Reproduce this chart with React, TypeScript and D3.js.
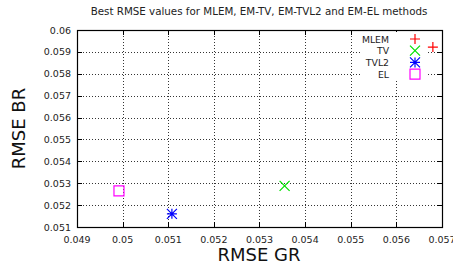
import * as d3 from "d3";
import React, { useEffect, useRef } from "react";

const methods = ["MLEM", "TV", "TVL2", "EL"];
const rmseGR = [0.0568, 0.05355, 0.05108, 0.04992];
const rmseBR = [0.05922, 0.05288, 0.0516, 0.05265];
const colors = ["#ff0000", "#00e000", "#0000ff", "#ff00ff"];
const shapes = ["plus", "cross", "star", "square"];
const xTicks = [0.049, 0.05, 0.051, 0.052, 0.053, 0.054, 0.055, 0.056, 0.057];
const yTicks = [0.051, 0.052, 0.053, 0.054, 0.055, 0.056, 0.057, 0.058, 0.059, 0.06];

const drawMarker = (g, shape, color, x, y) => {
  const s = 5;
  const p = g.append("path").attr("fill", "none").attr("stroke", color).attr("stroke-width", 1.2);
  if (shape === "plus") {
    p.attr("d", `M${x - s},${y}H${x + s}M${x},${y - s}V${y + s}`);
  } else if (shape === "cross") {
    p.attr("d", `M${x - s},${y - s}L${x + s},${y + s}M${x - s},${y + s}L${x + s},${y - s}`);
  } else if (shape === "star") {
    p.attr(
      "d",
      `M${x - s},${y}H${x + s}M${x},${y - s}V${y + s}M${x - s},${y - s}L${x + s},${y + s}M${x - s},${y + s}L${x + s},${y - s}`
    );
  } else {
    p.attr("d", `M${x - s},${y - s}H${x + s}V${y + s}H${x - s}Z`);
  }
};

export default function App() {
  const ref = useRef(null);

  useEffect(() => {
    const width = 453;
    const height = 269;
    const margin = { left: 77, right: 11, top: 30, bottom: 42 };

    const svg = d3.select(ref.current);
    svg.selectAll("*").remove();
    svg.style("font-family", "DejaVu Sans, sans-serif");

    const x = d3.scaleLinear().domain([0.049, 0.057]).range([margin.left, width - margin.right]);
    const y = d3.scaleLinear().domain([0.051, 0.06]).range([height - margin.bottom, margin.top]);
    const [x0, x1] = x.range();
    const [y0, y1] = y.range();

    // grid
    const grid = svg.append("g").attr("stroke", "#000").attr("stroke-width", 0.8).attr("stroke-dasharray", "1,2");
    grid
      .selectAll("line.vx")
      .data(xTicks.slice(1, -1))
      .join("line")
      .attr("x1", (d) => Math.round(x(d)) + 0.5)
      .attr("x2", (d) => Math.round(x(d)) + 0.5)
      .attr("y1", y1)
      .attr("y2", y0);
    grid
      .selectAll("line.hy")
      .data(yTicks.slice(1, -1))
      .join("line")
      .attr("class", "hy")
      .attr("x1", x0)
      .attr("x2", x1)
      .attr("y1", (d) => Math.round(y(d)) + 0.5)
      .attr("y2", (d) => Math.round(y(d)) + 0.5);

    // ticks (inward, mirrored)
    const ticks = svg.append("g").attr("stroke", "#000").attr("stroke-width", 1);
    xTicks.forEach((t) => {
      const px = Math.round(x(t)) + 0.5;
      ticks.append("line").attr("x1", px).attr("x2", px).attr("y1", y0).attr("y2", y0 - 5);
      ticks.append("line").attr("x1", px).attr("x2", px).attr("y1", y1).attr("y2", y1 + 5);
    });
    yTicks.forEach((t) => {
      const py = Math.round(y(t)) + 0.5;
      ticks.append("line").attr("x1", x0).attr("x2", x0 + 5).attr("y1", py).attr("y2", py);
      ticks.append("line").attr("x1", x1).attr("x2", x1 - 5).attr("y1", py).attr("y2", py);
    });

    // legend box background
    svg
      .append("rect")
      .attr("x", 360)
      .attr("y", 32)
      .attr("width", 68)
      .attr("height", 48)
      .attr("fill", "#fff");

    // border
    svg
      .append("rect")
      .attr("x", x0 + 0.5)
      .attr("y", y1 + 0.5)
      .attr("width", x1 - x0)
      .attr("height", y0 - y1)
      .attr("fill", "none")
      .attr("stroke", "#000")
      .attr("stroke-width", 1.2);

    // tick labels
    svg
      .append("g")
      .attr("font-size", 9.5)
      .attr("fill", "#222")
      .attr("text-anchor", "middle")
      .selectAll("text")
      .data(xTicks)
      .join("text")
      .attr("x", (d) => x(d))
      .attr("y", y0 + 16)
      .text((d) => d3.format("~g")(d));
    svg
      .append("g")
      .attr("font-size", 9.5)
      .attr("fill", "#222")
      .attr("text-anchor", "end")
      .selectAll("text")
      .data(yTicks)
      .join("text")
      .attr("x", x0 - 6)
      .attr("y", (d) => y(d) + 3.5)
      .text((d) => d3.format("~g")(d));

    // title and axis labels
    svg
      .append("text")
      .attr("x", 259)
      .attr("y", 15)
      .attr("text-anchor", "middle")
      .attr("font-size", 10.3)
      .attr("fill", "#222")
      .text("Best RMSE values for MLEM, EM-TV, EM-TVL2 and EM-EL methods");
    svg
      .append("text")
      .attr("x", 259)
      .attr("y", 261)
      .attr("text-anchor", "middle")
      .attr("font-size", 18)
      .attr("fill", "#111")
      .text("RMSE GR");
    svg
      .append("text")
      .attr("transform", `translate(25,${(y0 + y1) / 2}) rotate(-90)`)
      .attr("text-anchor", "middle")
      .attr("font-size", 18)
      .attr("fill", "#111")
      .text("RMSE BR");

    // points
    const pts = svg.append("g");
    methods.forEach((m, i) => {
      drawMarker(pts, shapes[i], colors[i], x(rmseGR[i]), y(rmseBR[i]));
    });

    // legend
    const legend = svg.append("g").attr("font-size", 9.3).attr("fill", "#222");
    methods.forEach((m, i) => {
      const ly = 39 + i * 11.7;
      legend
        .append("text")
        .attr("x", 389)
        .attr("y", ly + 3.5)
        .attr("text-anchor", "end")
        .text(m);
      drawMarker(legend, shapes[i], colors[i], 415, ly);
    });
  }, []);

  return (
    <div>
      <svg ref={ref} width={453} height={269} style={{ position: "absolute", left: 0, top: 0 }} />
    </div>
  );
}
